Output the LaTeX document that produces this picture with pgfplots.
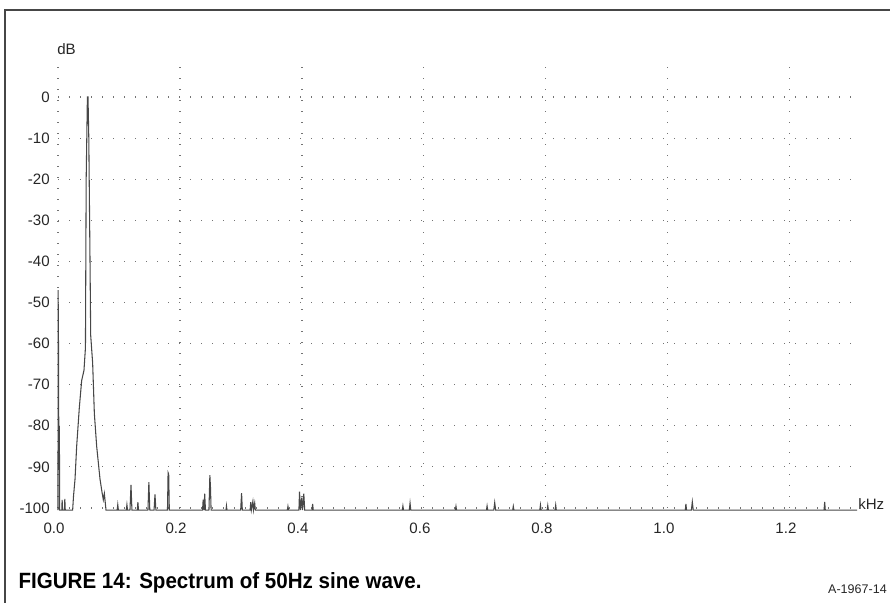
\documentclass[border=0pt]{standalone}
\usepackage{pgfplots}
\pgfplotsset{compat=1.18}
\usepackage{fontspec}
\setmainfont{Liberation Sans}
\usepackage{graphicx}

% spectrum, dB vs kHz (floor drawn just under -100)
\pgfplotstableread{
x y
0 -100.5
0.0002 -47
0.0008 -60
0.0012 -79
0.0018 -84
0.0022 -80
0.0028 -100.5
0.0062 -100.5
0.0068 -98
0.0074 -100.5
0.0105 -100.5
0.0112 -97.8
0.0119 -100.5
0.0240 -100.5
0.0255 -97
0.0279 -93
0.0306 -85
0.0350 -75.5
0.0388 -69
0.0426 -66.5
0.0450 -61
0.0462 -20
0.0482 0
0.0492 0
0.0505 -10
0.0525 -40
0.0536 -58
0.0568 -64.7
0.0596 -77
0.0634 -85
0.0689 -93
0.0720 -96
0.0743 -98
0.0760 -96.5
0.0787 -100.5
0.0970 -100.5
0.0980 -99.2
0.0990 -100.5
0.1120 -100.5
0.1130 -99.2
0.1140 -100.5
0.1180 -100.5
0.1197 -94.4
0.1212 -100.5
0.1300 -100.5
0.1310 -98.6
0.1320 -100.5
0.1475 -100.5
0.1490 -93.7
0.1505 -100.5
0.1575 -100.5
0.1590 -96.7
0.1605 -100.5
0.1795 -100.5
0.1805 -91.4
0.1815 -91.8
0.1825 -100.5
0.2370 -100.5
0.2380 -98
0.2395 -100.5
0.2405 -96.5
0.2418 -100.5
0.2475 -100.5
0.2490 -92
0.2500 -95
0.2510 -100.5
0.2755 -100.5
0.2762 -99.5
0.2770 -100.5
0.2995 -100.5
0.3010 -96.4
0.3022 -100.5
0.3150 -100.5
0.3160 -98.6
0.3170 -100.5
0.3195 -98.4
0.3205 -100.5
0.3225 -98.8
0.3235 -100.5
0.3760 -100.5
0.3770 -99.6
0.3780 -100.5
0.3950 -100.5
0.3960 -96
0.3975 -100.5
0.3995 -97.5
0.4010 -100.5
0.4030 -96.5
0.4045 -100.5
0.4165 -100.5
0.4175 -99
0.4185 -100.5
0.5645 -100.5
0.5655 -99.5
0.5665 -100.5
0.5760 -100.5
0.5772 -98.8
0.5784 -100.5
0.6515 -100.5
0.6525 -99.6
0.6535 -100.5
0.7025 -100.5
0.7035 -99.5
0.7045 -100.5
0.7145 -100.5
0.7160 -98.7
0.7175 -100.5
0.7455 -100.5
0.7465 -99.6
0.7475 -100.5
0.7900 -100.5
0.7910 -99.3
0.7920 -100.5
0.8020 -100.5
0.8030 -99.4
0.8040 -100.5
0.8150 -100.5
0.8160 -99.3
0.8170 -100.5
1.0285 -100.5
1.0295 -99
1.0305 -100.5
1.0385 -100.5
1.0400 -98.5
1.0415 -100.5
1.2560 -100.5
1.2570 -98.5
1.2580 -100.5
1.3100 -100.5
}\spectrum

\begin{document}
\begin{tikzpicture}
\path[use as bounding box] (0,0) rectangle (667.5pt,452.25pt);
\draw[gray!55!black, line width=1.9pt] (3.75pt,0) -- (3.75pt,444.75pt) -- (667.5pt,444.75pt);

\begin{axis}[
  at={(43.5pt,71.25pt)}, anchor=south west,
  scale only axis, width=599.25pt, height=336pt,
  xmin=0, xmax=1.31, ymin=-100, ymax=9,
  clip=false,
  axis line style={draw=none},
  tick style={draw=none},
  xtick={0,0.2,0.4,0.6,0.8,1.0,1.2},
  xticklabels={0.0,0.2,0.4,0.6,0.8,1.0,1.2},
  ytick={-100,-90,-80,-70,-60,-50,-40,-30,-20,-10,0},
  yticklabels={-100,-90,-80,-70,-60,-50,-40,-30,-20,-10,0},
  grid=major,
  grid style={black!55, line width=0.8pt, dash pattern=on 1.1pt off 7.15pt},
  ticklabel style={font=\fontsize{11.3}{13}\selectfont, inner sep=0pt, text=black!85},
  yticklabel style={xshift=-6pt},
  xticklabel style={yshift=-11pt, xshift=-3pt},
]
\addplot[black!72, line width=0.8pt] table {\spectrum};
\end{axis}

\node[anchor=base west, inner sep=0pt, font=\fontsize{11.3}{13}\selectfont, text=black!85] at (42.75pt,411pt) {dB};
\node[anchor=base west, inner sep=0pt, font=\fontsize{11.3}{13}\selectfont, text=black!85] at (643.5pt,69.75pt) {kHz};
\node[anchor=base west, inner sep=0pt] at (13.7pt,10.5pt)
  {\resizebox{302.25pt}{12pt}{\bfseries FIGURE 14: Spectrum of 50Hz sine wave.}};
\node[anchor=base east, inner sep=0pt, font=\fontsize{9.4}{11}\selectfont, text=black!85] at (665.25pt,6.75pt) {A-1967-14};
\end{tikzpicture}
\end{document}
